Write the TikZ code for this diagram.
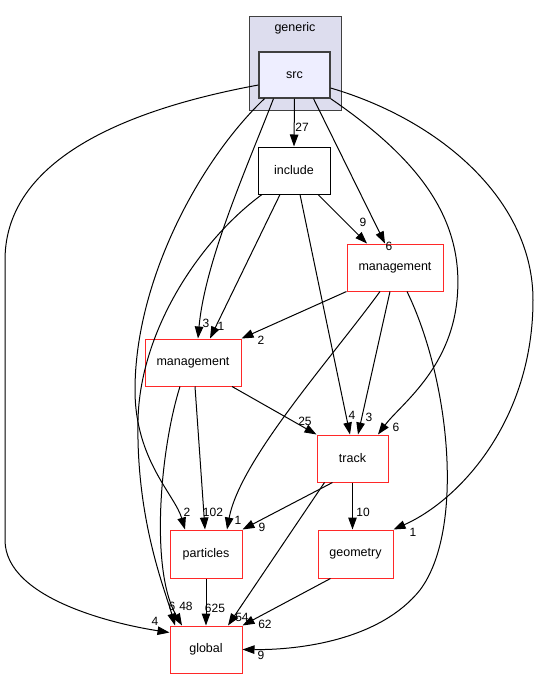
\documentclass[tikz,border=0pt]{standalone}
\usepackage{fontspec}
\setmainfont{Liberation Sans}
\usepackage{xcolor}
\usepackage{tikz}
\usetikzlibrary{arrows.meta}

\definecolor{dirred}{RGB}{255,40,40}
\definecolor{clusterfill}{RGB}{221,221,238}
\definecolor{srcfill}{RGB}{238,238,255}
\definecolor{clusterline}{RGB}{64,64,64}

\begin{document}
\begin{tikzpicture}[
      x=1pt, y=-1pt,
      >={Triangle[length=12pt,width=8.5pt]},
      font=\fontsize{12.5}{15}\selectfont,
      dir/.style={draw=dirred,line width=1pt,fill=white,inner sep=0pt,minimum height=47pt},
      cluster/.style={draw=clusterline,line width=1pt,fill=clusterfill,inner sep=0pt},
      dep/.style={->,line width=1pt},
      lbl/.style={font=\fontsize{12}{14}\selectfont,inner sep=0pt},
    ]
    \useasboundingbox (0,0) rectangle (539,681);

    % Nodes
    \node[cluster,minimum width=92pt,minimum height=94pt] (generic) at (295,63) {};
    \node (genericlbl) at (295,28) {generic};
    \node[draw=clusterline,line width=1.2pt,fill=srcfill,inner sep=0pt,minimum width=71pt,minimum height=46pt] (src) at (294.5,75) {src};
    \node[draw,line width=1pt,fill=white,inner sep=0pt,minimum width=72pt,minimum height=47pt] (include) at (294,170.5) {include};
    \node[dir,minimum width=96pt] (mgmtB) at (395,267.5) {management};
    \node[dir,minimum width=96pt] (mgmtA) at (193,362.5) {management};
    \node[dir,minimum width=71pt] (track) at (352.5,458.5) {track};
    \node[dir,minimum width=72pt,minimum height=48pt] (particles) at (206,554) {particles};
    \node[dir,minimum width=75pt,minimum height=48pt] (geometry) at (355.5,554) {geometry};
    \node[dir,minimum width=72pt] (global) at (206,649.5) {global};

    % Arrows from src
    \draw[dep] (src.south) -- (include.north) node[lbl] at (302,127) {27};
    \draw[dep] ([xshift=19pt]src.south) -- ([xshift=-10pt]mgmtB.north) node[lbl] at (389,246) {6};
    \draw[dep] ([xshift=-21pt]src.south) .. controls (250,160) and (205,260) .. ([xshift=5pt]mgmtA.north) node[lbl] at (206,323) {3};
    \draw[dep] ([xshift=-30pt]src.south) .. controls (200,160) and (135,280) .. (135,390)
      .. controls (135,460) and (175,495) .. ([xshift=-21pt]particles.north) node[lbl] at (187,512) {2};
    \draw[dep] ([yshift=-10pt]src.west) .. controls (150,105) and (5,150) .. (5,260) -- (5,540)
      .. controls (5,600) and (120,625) .. ([yshift=17pt]global.west) node[lbl] at (155,621) {4};
    \draw[dep] (src.south east) .. controls (420,160) and (465,220) .. (457,300)
      .. controls (450,370) and (400,405) .. ([xshift=25.5pt]track.north) node[lbl] at (396,427) {6};
    \draw[dep] ([yshift=-13pt]src.east) .. controls (440,120) and (533,200) .. (533,300)
      .. controls (533,420) and (460,500) .. (geometry.north east) node[lbl] at (413,532) {1};

    % Arrows from include
    \draw[dep] ([xshift=-14pt]include.south) -- ([xshift=17pt]mgmtA.north) node[lbl] at (221,326) {1};
    \draw[dep] ([xshift=24pt]include.south) -- ([xshift=-28pt]mgmtB.north) node[lbl] at (363,222) {9};
    \draw[dep] ([xshift=6pt]include.south) -- ([xshift=-2.5pt]track.north) node[lbl] at (352,415) {4};
    \draw[dep] ([xshift=-32pt]include.south) .. controls (200,240) and (140,330) .. (138,420)
      .. controls (136,520) and (165,590) .. ([xshift=-31pt]global.north) node[lbl] at (172,606) {6};

    % Arrows from management (right)
    \draw[dep] (mgmtB.south west) -- (mgmtA.north east) node[lbl] at (261,340) {2};
    \draw[dep] ([xshift=-5pt]mgmtB.south) -- ([xshift=5.5pt]track.north) node[lbl] at (369,417) {3};
    \draw[dep] ([xshift=-15pt]mgmtB.south) .. controls (330,360) and (240,460) .. ([xshift=21pt]particles.north) node[lbl] at (238,520) {1};
    \draw[dep] ([xshift=12pt]mgmtB.south) .. controls (450,380) and (465,530) .. (420,590)
      .. controls (380,640) and (300,650) .. (global.east) node[lbl] at (261,655) {9};

    % Arrows from management (left)
    \draw[dep] ([xshift=39pt]mgmtA.south) -- (track.north west) node[lbl] at (305,421) {25};
    \draw[dep] ([xshift=2pt]mgmtA.south) -- ([xshift=-1pt]particles.north) node[lbl] at (213,512) {102};
    \draw[dep] ([xshift=-13pt]mgmtA.south) .. controls (160,450) and (150,570) .. ([xshift=-24pt]global.north) node[lbl] at (186,606) {48};

    % Arrows from track, particles, geometry
    \draw[dep] ([xshift=-20pt]track.south) -- (particles.north east) node[lbl] at (262,527) {9};
    \draw[dep] (track.south) -- (track.south |- geometry.north) node[lbl] at (363,512) {10};
    \draw[dep] ([xshift=-28pt]track.south) -- ([xshift=22pt]global.north) node[lbl] at (242,617) {54};
    \draw[dep] (particles) -- (global) node[lbl] at (215,608) {625};
    \draw[dep] ([xshift=-25pt]geometry.south) -- (global.north east) node[lbl] at (265,624) {62};
  \end{tikzpicture}
\end{document}
